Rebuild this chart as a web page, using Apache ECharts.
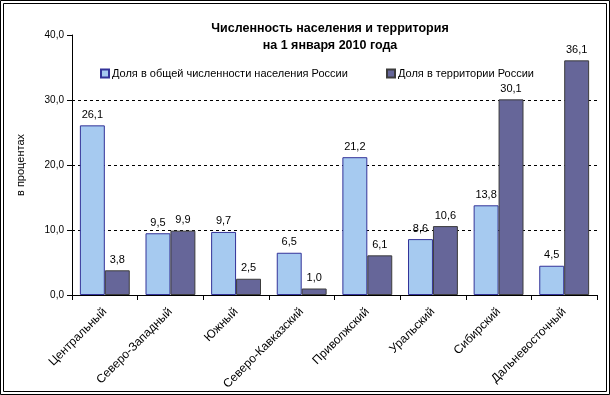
<!DOCTYPE html>
<html><head><meta charset="utf-8">
<script src="https://cdn.jsdelivr.net/npm/echarts@6/dist/echarts.min.js"></script>
<style>html,body{margin:0;padding:0;background:#fff}#c{width:610px;height:395px}</style>
</head><body><div id="c"></div>
<script>
const categories = ['Центральный','Северо-Западный','Южный','Северо-Кавказский','Приволжский','Уральский','Сибирский','Дальневосточный'];
const populationShare = [26.1, 9.5, 9.7, 6.5, 21.2, 8.6, 13.8, 4.5];
const territoryShare = [3.8, 9.9, 2.5, 1.0, 6.1, 10.6, 30.1, 36.1];
const seriesNames = ['Доля в общей численности населения России','Доля в территории России'];
const yTicks = [0, 10, 20, 30, 40];

const FONT = '"Liberation Sans", Arial, sans-serif';
const fmt = v => Number(v).toFixed(1).replace('.', ',');
const chart = echarts.init(document.getElementById('c'), null, {renderer:'canvas'});
chart.setOption({
  animation: false,
  textStyle: {fontFamily: FONT},
  title: {
    text: 'Численность населения и территория\nна 1 января 2010 года',
    left: 325, top: 15, textAlign: 'center',
    textStyle: {fontFamily: FONT, fontSize: 12.5, fontWeight: 'bold', color: '#000', lineHeight: 17}
  },
  graphic: [
    {type:'rect', shape:{x:0.5,y:0.5,width:609,height:394}, style:{fill:'none', stroke:'#000', lineWidth:1}},
    {type:'rect', shape:{x:3.5,y:3.5,width:603,height:388}, style:{fill:'none', stroke:'#000', lineWidth:1}}
  ],
  legend: [
    {data:[seriesNames[0]], left: 95, top: 63, itemWidth: 8, itemHeight: 8, itemGap: 4,
     icon: 'rect', textStyle:{fontFamily:FONT, fontSize:11, color:'#000', padding:[0,0,0,-2]}},
    {data:[seriesNames[1]], left: 381, top: 63, itemWidth: 8, itemHeight: 8, itemGap: 4,
     icon: 'rect', textStyle:{fontFamily:FONT, fontSize:11, color:'#000', padding:[0,0,0,-2]}}
  ],
  grid: {left: 72, right: 13, top: 35, bottom: 100},
  xAxis: {
    type: 'category', data: categories,
    axisLine: {lineStyle:{color:'#000', width:1}},
    axisTick: {show:true, alignWithLabel:false, length:5, lineStyle:{color:'#000'}},
    axisLabel: {rotate: 45, fontSize: 12, color:'#000', fontFamily: FONT, margin: 15, interval: 0}
  },
  yAxis: {
    type: 'value', min: 0, max: 40, interval: 10,
    name: 'в процентах', nameLocation: 'middle', nameGap: 46, nameRotate: 90,
    nameTextStyle: {fontFamily: FONT, fontSize: 11, color:'#000'},
    axisLine: {show:true, lineStyle:{color:'#000'}},
    axisTick: {show:true, length:5, lineStyle:{color:'#000'}},
    axisLabel: {fontSize: 10, color:'#000', fontFamily: FONT, margin: 8,
      formatter: v => yTicks.includes(v) ? fmt(v) : ''},
    splitLine: {show:true, showMinLine:false, showMaxLine:false, lineStyle:{color:'#000', type:[3,3], width:1}}
  },
  series: [
    {name: seriesNames[0], type:'bar', data: populationShare, barGap: '0%', barCategoryGap: '24%',
     itemStyle:{color:'#A6CAF0', borderColor:'#333399', borderWidth:1},
     label:{show:true, position:'top', distance:5, formatter: p => fmt(p.value), fontSize:11, color:'#000', fontFamily:FONT}},
    {name: seriesNames[1], type:'bar', data: territoryShare, barGap: '0%', barCategoryGap: '24%',
     itemStyle:{color:'#666699', borderColor:'#3c3c3c', borderWidth:1},
     label:{show:true, position:'top', distance:5, formatter: p => fmt(p.value), fontSize:11, color:'#000', fontFamily:FONT}}
  ]
});
</script></body></html>
